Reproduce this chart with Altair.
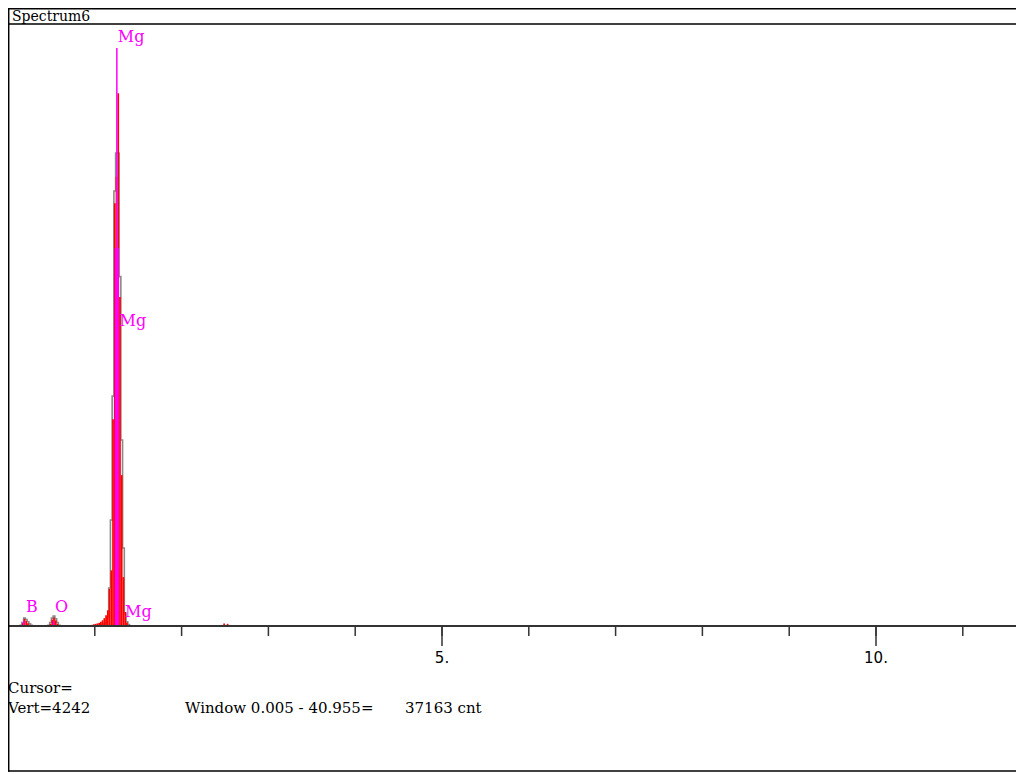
import altair as alt
import pandas as pd

# ---------------- data ----------------
CH = 0.02  # channel width, keV

GREY_KEV = [0.13, 0.15, 0.17, 0.19, 0.21, 0.23, 0.25, 0.27, 0.29,
            0.45, 0.47, 0.49, 0.51, 0.53, 0.55, 0.57, 0.59, 0.61,
            1.07, 1.09, 1.11, 1.13, 1.15, 1.17, 1.19, 1.21, 1.23, 1.25, 1.27,
            1.29, 1.31, 1.33, 1.35, 1.37, 1.39, 1.41]
GREY_CNT = [0, 5, 25, 55, 45, 30, 15, 5, 0,
            0, 5, 25, 55, 70, 50, 25, 5, 0,
            0, 10, 15, 25, 60, 266, 743, 1612, 3050, 3316, 3316,
            2450, 1304, 547, 91, 30, 10, 0]

RED_KEV = [0.17, 0.19, 0.21, 0.23, 0.25,
           0.49, 0.51, 0.53, 0.55, 0.57,
           0.97, 0.99, 1.01, 1.03, 1.05, 1.07, 1.09, 1.11, 1.13, 1.15, 1.17,
           1.19, 1.21, 1.23, 1.25, 1.27, 1.29, 1.31, 1.33, 1.35, 1.37,
           2.49, 2.53]
RED_CNT = [20, 50, 35, 20, 8,
           15, 45, 60, 40, 15,
           8, 12, 15, 18, 22, 30, 40, 55, 75, 110, 260,
           390, 1450, 2965, 3150, 3736, 2306, 1058, 343, 98, 25,
           18, 15]

MARKER_KEV = [0.183, 0.525, 1.254, 1.254]
MARKER_CNT = [35, 35, 4053, 2650]
MARKER_W = [1.5, 1.5, 1.5, 4]

LABEL_KEV = [1.265, 1.285, 1.348, 0.207, 0.541]
LABEL_CNT = [4095, 2103, 63, 98, 98]
LABEL_TXT = ["Mg", "Mg", "Mg", "B", "O"]

TICKS = [1, 2, 3, 4, 5, 6, 7, 8, 9, 10, 11]
MAJOR_TICKS = [5, 10]
MAJOR_LABELS = ["5.", "10."]

TITLE = "Spectrum6"
CURSOR = "Cursor="
VERT = "Vert=4242"
WINDOW = "Window 0.005 - 40.955="
TOTAL = "37163 cnt"

# ---------------- chart ----------------
W, H = 1008, 605
KEV_MAX = W / 86.8
FULL = 4242

xs = alt.Scale(domain=[0, KEV_MAX], nice=False, zero=False)
ys = alt.Scale(domain=[0, FULL], nice=False, zero=False)

grey_df = pd.DataFrame({"kev": GREY_KEV, "cnt": GREY_CNT})
red_df = pd.DataFrame({"kev": RED_KEV, "cnt": RED_CNT})
mk_df = pd.DataFrame({"kev": MARKER_KEV, "cnt": MARKER_CNT, "w": MARKER_W})
lab_df = pd.DataFrame({"kev": LABEL_KEV, "cnt": LABEL_CNT, "t": LABEL_TXT})
tick_df = pd.DataFrame({"v": TICKS})
major_df = pd.DataFrame({"v": MAJOR_TICKS, "t": MAJOR_LABELS})
one = alt.Data(values=[{"a": 1}])

red = alt.Chart(red_df).transform_calculate(
    lo=f"datum.kev - {CH/2}", hi=f"datum.kev + {CH/2}", z="0"
).mark_bar(color="#FF0000", clip=False).encode(
    x=alt.X("lo:Q", scale=xs, axis=None),
    x2="hi:Q",
    y=alt.Y("cnt:Q", scale=ys, axis=None),
    y2="z:Q",
)

grey = alt.Chart(grey_df).mark_line(
    interpolate="step", color="#8a8a8a", strokeWidth=1.6
).encode(
    x=alt.X("kev:Q", scale=xs, axis=None),
    y=alt.Y("cnt:Q", scale=ys, axis=None),
)

markers = alt.Chart(mk_df).transform_calculate(z="0").mark_rule(color="#FF00FF").encode(
    x=alt.X("kev:Q", scale=xs, axis=None),
    y=alt.Y("cnt:Q", scale=ys, axis=None),
    y2="z:Q",
    strokeWidth=alt.StrokeWidth("w:Q", scale=None),
)

labels = alt.Chart(lab_df).mark_text(
    color="#FF00FF", font="DejaVu Serif", fontSize=16, align="left", baseline="alphabetic"
).encode(
    x=alt.X("kev:Q", scale=xs, axis=None),
    y=alt.Y("cnt:Q", scale=ys, axis=None),
    text="t:N",
)

axis_line = alt.Chart(one).mark_rule(color="#333333", strokeWidth=1.8).encode(
    x=alt.value(0), x2=alt.value(W), y=alt.value(H)
)
minor = alt.Chart(tick_df).mark_rule(color="#333333", strokeWidth=1.5).encode(
    x=alt.X("v:Q", scale=xs, axis=None), y=alt.value(H), y2=alt.value(H + 10)
)
major = alt.Chart(major_df).mark_rule(color="#333333", strokeWidth=1.5).encode(
    x=alt.X("v:Q", scale=xs, axis=None), y=alt.value(H), y2=alt.value(H + 20)
)
major_lab = alt.Chart(major_df).mark_text(
    font="DejaVu Sans", fontSize=15, align="center", baseline="alphabetic", color="#000"
).encode(x=alt.X("v:Q", scale=xs, axis=None), y=alt.value(H + 37), text="t:N")

def hline(y, x0=0, x1=W):
    return alt.Chart(one).mark_rule(color="#000", strokeWidth=1.5).encode(
        x=alt.value(x0), x2=alt.value(x1), y=alt.value(y))

top_b = hline(-12.2)
sep = hline(3)
bot_b = hline(750)
left_b = alt.Chart(one).mark_rule(color="#000", strokeWidth=1.5).encode(
    x=alt.value(0.7), y=alt.value(-13), y2=alt.value(750.7))

def txt(s, x, y, size=15, font="DejaVu Serif"):
    return alt.Chart(one).mark_text(
        font=font, fontSize=size, align="left", baseline="alphabetic", color="#000"
    ).encode(x=alt.value(x), y=alt.value(y), text=alt.value(s))

texts = [
    txt(TITLE, 4, 0, 14),
    txt(CURSOR, 0, 672),
    txt(VERT, 0, 692),
    txt(WINDOW, 177, 692),
    txt(TOTAL, 397, 692),
]

chart = alt.layer(
    grey, red, markers, labels, axis_line, minor, major, major_lab,
    top_b, sep, bot_b, left_b, *texts
).properties(
    width=W, height=H,
    padding={"left": 0, "top": 13, "right": 0, "bottom": 146},
    autosize="none",
    background="white",
).configure_view(stroke=None)

chart.save("out.html", embed_options={"renderer": "svg", "actions": False})
